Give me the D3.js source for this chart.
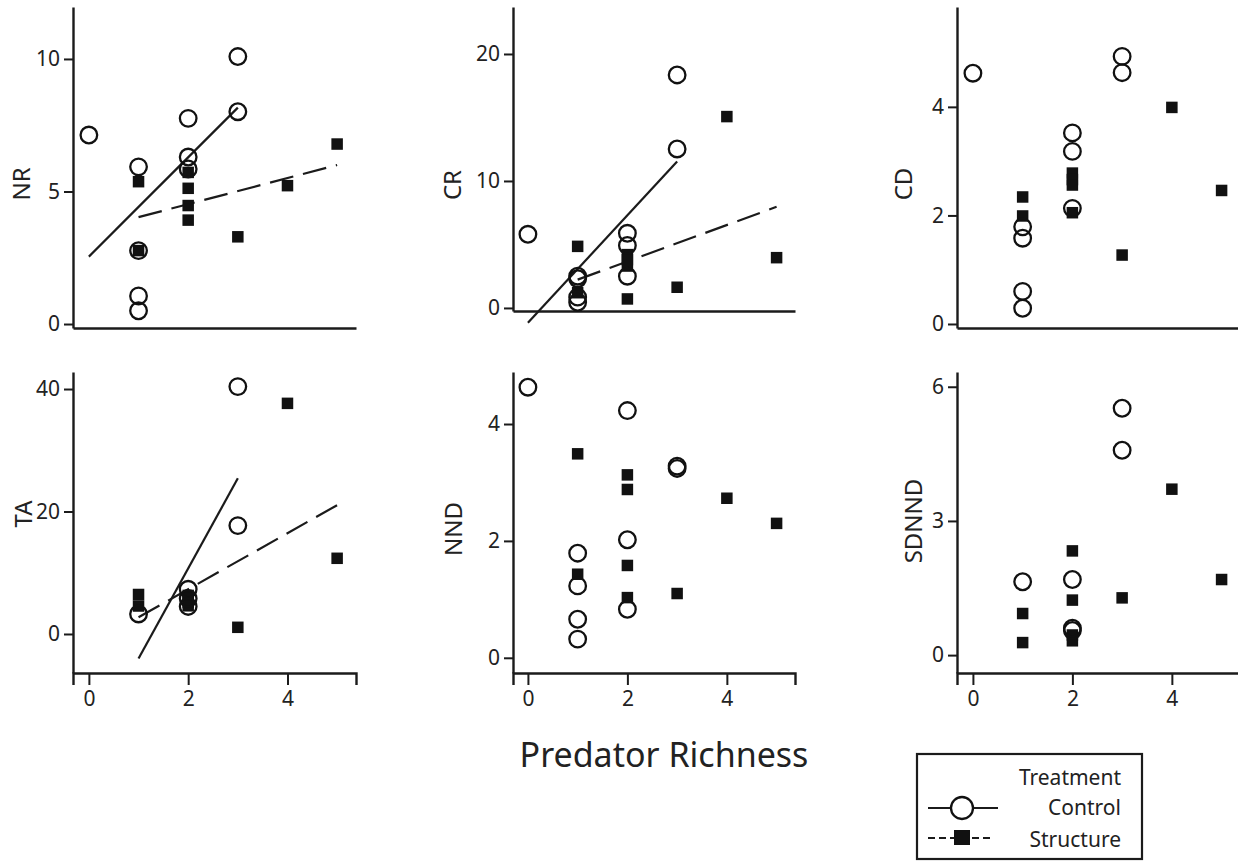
<!DOCTYPE html>
<html>
<head>
<meta charset="utf-8">
<script src="https://cdn.jsdelivr.net/npm/d3@7/dist/d3.min.js"></script>
<style>
  html, body { margin: 0; padding: 0; background: #fff; }
  svg { display: block; }
  text { font-family: "Noto Sans", "Open Sans", sans-serif; fill: #222; }
</style>
</head>
<body>
<svg id="chart" width="1238" height="861"></svg>
<script>
// Predator richness (x) for each treatment group
const ctrlRichness     = [0, 1, 1, 1, 1, 2, 2, 2, 3, 3];
const ctrlRichnessSub  = [1, 2, 2, 2, 3, 3];          // TA and SDNND were not measured for every control
const structRichness   = [1, 1, 2, 2, 2, 2, 3, 4, 5];

// Response variables: Control (open circles) and Structure (filled squares)
const nrControl     = [7.13, 5.93, 2.77, 1.06, 0.5, 7.76, 6.3, 5.85, 10.09, 8.01];
const nrStructure   = [5.37, 2.77, 5.72, 5.12, 4.47, 3.92, 3.29, 5.22, 6.79];
const crControl     = [5.8, 2.5, 2.3, 0.85, 0.45, 5.88, 4.92, 2.5, 18.35, 12.52];
const crStructure   = [4.85, 1.2, 4.2, 3.8, 3.3, 0.71, 1.63, 15.07, 3.96];
const cdControl     = [4.62, 1.79, 1.58, 0.6, 0.29, 3.52, 3.18, 2.13, 4.93, 4.63];
const cdStructure   = [2.34, 1.99, 2.78, 2.66, 2.56, 2.05, 1.27, 3.99, 2.46];
const taControl     = [3.27, 7.3, 5.8, 4.5, 40.4, 17.7];
const taStructure   = [6.45, 4.57, 6.3, 5.8, 5.2, 4.6, 1.09, 37.66, 12.36];
const nndControl    = [4.63, 1.79, 1.23, 0.66, 0.32, 4.23, 2.02, 0.83, 3.28, 3.24];
const nndStructure  = [3.49, 1.43, 3.13, 2.88, 1.58, 1.03, 1.10, 2.73, 2.3];
const sdnndControl  = [1.64, 1.69, 0.6, 0.55, 5.52, 4.58];
const sdnndStructure= [0.93, 0.28, 2.33, 1.23, 0.45, 0.32, 1.28, 3.71, 1.69];

// Tick labels
const nrTicks = [0, 5, 10];
const crTicks = [0, 10, 20];
const cdTicks = [0, 2, 4];
const taTicks = [0, 20, 40];
const nndTicks = [0, 2, 4];
const sdnndTicks = [0, 3, 6];
const richnessTicks = [0, 2, 4];

const xTitle = "Predator Richness";
const legendTitle = "Treatment";
const groupNames = ["Control", "Structure"];

// Panel definitions: data plus frame geometry
const panels = [
  { label: "NR", ctrl: [ctrlRichness, nrControl], str: [structRichness, nrStructure], yTicks: nrTicks, fit: true,
    box: [73, 356, 7, 328], xDom: [-0.32, 5.38], yDom: [-0.15, 11.96], lab: [20, 184], xTicks: null },
  { label: "CR", ctrl: [ctrlRichness, crControl], str: [structRichness, crStructure], yTicks: crTicks, fit: true,
    box: [513, 795, 7, 311], xDom: [-0.30, 5.37], yDom: [-0.24, 23.7], lab: [451, 185], xTicks: null },
  { label: "CD", ctrl: [ctrlRichness, cdControl], str: [structRichness, cdStructure], yTicks: cdTicks, fit: false,
    box: [957, 1240, 7, 328], xDom: [-0.32, 5.37], yDom: [-0.074, 5.84], lab: [902, 184], xTicks: null },
  { label: "TA", ctrl: [ctrlRichnessSub, taControl], str: [structRichness, taStructure], yTicks: taTicks, fit: true,
    box: [73, 356, 372, 673], xDom: [-0.32, 5.38], yDom: [-6.37, 42.78], lab: [22, 514], xTicks: richnessTicks },
  { label: "NND", ctrl: [ctrlRichness, nndControl], str: [structRichness, nndStructure], yTicks: nndTicks, fit: false,
    box: [513, 795, 372, 673], xDom: [-0.30, 5.37], yDom: [-0.26, 4.89], lab: [452, 529], xTicks: richnessTicks },
  { label: "SDNND", ctrl: [ctrlRichnessSub, sdnndControl], str: [structRichness, sdnndStructure], yTicks: sdnndTicks, fit: false,
    box: [957, 1240, 372, 673], xDom: [-0.32, 5.37], yDom: [-0.40, 6.33], lab: [912, 521], xTicks: richnessTicks }
];

const ink = "#1b1b1b";
const svg = d3.select("#chart");
const intFmt = d3.format("d");

// Ordinary least squares fit over the x-range of a group
function olsLine(xs, ys) {
  const n = xs.length;
  const mx = d3.mean(xs), my = d3.mean(ys);
  let sxy = 0, sxx = 0;
  for (let i = 0; i < n; i++) { sxy += (xs[i] - mx) * (ys[i] - my); sxx += (xs[i] - mx) ** 2; }
  const b = sxy / sxx, a = my - b * mx;
  const [x0, x1] = d3.extent(xs);
  return [[x0, a + b * x0], [x1, a + b * x1]];
}

panels.forEach(p => {
  const [left, right, top, bottom] = p.box;
  const x = d3.scaleLinear().domain(p.xDom).range([left, right]);
  const y = d3.scaleLinear().domain(p.yDom).range([bottom, top]);
  const g = svg.append("g");

  // y axis
  const ya = g.append("g").attr("transform", `translate(${left},0)`)
    .call(d3.axisLeft(y).tickValues(p.yTicks).tickFormat(intFmt)
      .tickSize(9).tickSizeOuter(0).tickPadding(4));
  // x axis (ticks only on the bottom row)
  const xAxis = d3.axisBottom(x).tickSizeOuter(0).tickFormat(intFmt);
  if (p.xTicks) xAxis.tickValues(p.xTicks).tickSize(12).tickPadding(6);
  else xAxis.tickValues([]);
  const xa = g.append("g").attr("transform", `translate(0,${bottom})`).call(xAxis);

  [ya, xa].forEach(a => {
    a.select(".domain").attr("stroke", ink).attr("stroke-width", 2.4);
    a.selectAll(".tick line").attr("stroke", ink).attr("stroke-width", 2);
    a.selectAll(".tick text").attr("fill", "#222").style("font-size", "21px")
      .style("font-family", '"Noto Sans", "Open Sans", sans-serif');
  });

  g.append("text")
    .attr("transform", `translate(${p.lab[0]},${p.lab[1]}) rotate(-90)`)
    .attr("text-anchor", "middle").attr("dominant-baseline", "central")
    .style("font-size", "24px").text(p.label);

  // fitted lines
  if (p.fit) {
    const line = d3.line().x(d => x(d[0])).y(d => y(d[1]));
    g.append("path").attr("d", line(olsLine(p.ctrl[0], p.ctrl[1])))
      .attr("fill", "none").attr("stroke", ink).attr("stroke-width", 2.2);
    g.append("path").attr("d", line(olsLine(p.str[0], p.str[1])))
      .attr("fill", "none").attr("stroke", ink).attr("stroke-width", 2.2)
      .attr("stroke-dasharray", "24,10");
  }

  // Structure squares
  const sq = 11.5;
  g.selectAll("rect.str").data(p.str[1].map((v, i) => [p.str[0][i], v])).enter()
    .append("rect").attr("class", "str")
    .attr("x", d => x(d[0]) - sq / 2).attr("y", d => y(d[1]) - sq / 2)
    .attr("width", sq).attr("height", sq).attr("fill", "#111");

  // Control circles
  g.selectAll("circle.ctrl").data(p.ctrl[1].map((v, i) => [p.ctrl[0][i], v])).enter()
    .append("circle").attr("class", "ctrl")
    .attr("cx", d => x(d[0])).attr("cy", d => y(d[1])).attr("r", 8.3)
    .attr("fill", "none").attr("stroke", "#111").attr("stroke-width", 2.3);
});

// Shared x title
svg.append("text").attr("x", 664).attr("y", 767).attr("text-anchor", "middle")
  .style("font-size", "34px").text(xTitle);

// Legend
const lg = svg.append("g");
lg.append("rect").attr("x", 917).attr("y", 754).attr("width", 225).attr("height", 105)
  .attr("fill", "#fff").attr("stroke", ink).attr("stroke-width", 2.2);
lg.append("text").attr("x", 1121).attr("y", 785).attr("text-anchor", "end")
  .style("font-size", "21px").text(legendTitle);
lg.append("text").attr("x", 1121).attr("y", 815).attr("text-anchor", "end")
  .style("font-size", "21px").text(groupNames[0]);
lg.append("text").attr("x", 1121).attr("y", 847).attr("text-anchor", "end")
  .style("font-size", "21px").text(groupNames[1]);
lg.append("line").attr("x1", 928).attr("x2", 998).attr("y1", 808).attr("y2", 808)
  .attr("stroke", ink).attr("stroke-width", 2.2);
lg.append("circle").attr("cx", 962).attr("cy", 808).attr("r", 11)
  .attr("fill", "#fff").attr("stroke", "#111").attr("stroke-width", 2.3);
lg.append("line").attr("x1", 928).attr("x2", 992).attr("y1", 838).attr("y2", 838)
  .attr("stroke", ink).attr("stroke-width", 2.2).attr("stroke-dasharray", "7,4");
lg.append("rect").attr("x", 954).attr("y", 830).attr("width", 16).attr("height", 15)
  .attr("fill", "#111");
</script>
</body>
</html>
